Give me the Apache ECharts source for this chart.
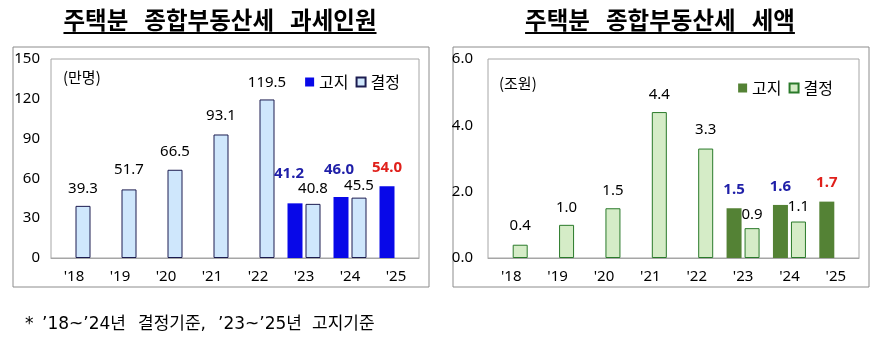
<!DOCTYPE html>
<html>
<head>
<meta charset="utf-8">
<script src="https://cdn.jsdelivr.net/npm/echarts@6/dist/echarts.min.js"></script>
<style>
  html, body { margin: 0; padding: 0; background: #fff; }
  #chart { width: 875px; height: 351px; }
</style>
</head>
<body>
<div id="chart"></div>
<script>
// data
const years = ["'18", "'19", "'20", "'21", "'22", "'23", "'24", "'25"];
const peopleNotice = [null, null, null, null, null, 41.2, 46.0, 54.0]; // 고지 (만명)
const peopleFinal = [39.3, 51.7, 66.5, 93.1, 119.5, 40.8, 45.5, null]; // 결정 (만명)
const amountNotice = [null, null, null, null, null, 1.5, 1.6, 1.7]; // 고지 (조원)
const amountFinal = [0.4, 1.0, 1.5, 4.4, 3.3, 0.9, 1.1, null]; // 결정 (조원)
const peopleTicks = [0, 30, 60, 90, 120, 150];
const amountTicks = [0, 2, 4, 6];

// label placement tweaks (style only)
const peopleFinalGap = [10, 12, 11, 11, 9, 8, 4, 0];
const peopleNoticeGap = [0, 0, 0, 0, 0, 22, 20, 11];
const peopleNoticeShift = [0, 0, 0, 0, 0, -6, -2, 0];
const amountFinalGap = [11, 10, 10, 10, 11, 6, 7, 0];
const amountNoticeGap = [0, 0, 0, 0, 0, 11, 11, 11];

const FONT = "'Noto Sans', 'Noto Sans CJK KR', sans-serif";
const KFONT = "'Noto Sans CJK KR', 'Noto Sans', sans-serif";
const BLUE_LABEL = "#1f1fa8";
const RED_LABEL = "#e0201b";

function items(values, gaps, shifts, bold) {
  return values.map(function (v, i) {
    if (v == null) return null;
    const last = i === values.length - 1;
    return {
      value: v,
      label: {
        distance: gaps[i],
        offset: [shifts ? shifts[i] : 0, 0],
        color: bold ? (last ? RED_LABEL : BLUE_LABEL) : "#000",
        fontWeight: bold ? "bold" : "normal",
      },
    };
  });
}

function measure(text, font) {
  const ctx = document.createElement("canvas").getContext("2d");
  ctx.font = font;
  return ctx.measureText(text).width;
}

const titleFont = "bold 23.5px " + KFONT;
const titleLeft = "주택분   종합부동산세   과세인원";
const titleRight = "주택분   종합부동산세   세액";
const wLeft = measure(titleLeft, titleFont);
const wRight = measure(titleRight, titleFont);

// footnote pieces and their x positions
const noteFont = "17px 'DejaVu Sans', 'Noto Sans CJK KR', sans-serif";
const notePieces = [["*", 25], ["’18~’24년", 42], ["결정기준,", 138], ["’23~’25년", 218], ["고지기준", 312]];

const chart = echarts.init(document.getElementById("chart"));

const barLabel = {
  show: true,
  position: "top",
  fontSize: 15,
  fontFamily: FONT,
  formatter: function (p) { return p.value.toFixed(1); },
};

const legendBase = {
  icon: "rect", itemWidth: 9, itemHeight: 9, itemGap: 7,
  textStyle: { fontSize: 16, fontFamily: KFONT, color: "#000" },
  selectedMode: false,
};

const options = {
  animation: false,
  textStyle: { fontFamily: FONT },
  grid: [
    { left: 51, top: 59, width: 368, height: 199, show: true, borderColor: "#a6a6a6", borderWidth: 1 },
    { left: 488, top: 59, width: 371, height: 199, show: true, borderColor: "#a6a6a6", borderWidth: 1 },
  ],
  legend: [
    Object.assign({ data: ["고지", "결정"], right: 470, top: 69 }, legendBase),
    Object.assign({
      data: ["고지 ", "결정 "], right: 37, top: 75,
      formatter: function (n) { return n.trim(); },
    }, legendBase),
  ],
  xAxis: [0, 1].map(function (g) {
    return {
      type: "category",
      gridIndex: g,
      data: years,
      axisTick: { show: false },
      axisLine: { lineStyle: { color: "#a6a6a6" } },
      axisLabel: { color: "#000", fontSize: 15, margin: 11 },
    };
  }),
  yAxis: [
    {
      type: "value", gridIndex: 0,
      min: peopleTicks[0], max: peopleTicks[peopleTicks.length - 1],
      interval: peopleTicks[1] - peopleTicks[0],
      splitLine: { show: false },
      axisLine: { show: false },
      axisLabel: { color: "#000", fontSize: 15, margin: 11 },
    },
    {
      type: "value", gridIndex: 1,
      min: amountTicks[0], max: amountTicks[amountTicks.length - 1],
      interval: amountTicks[1] - amountTicks[0],
      splitLine: { show: false },
      axisLine: { show: false },
      axisLabel: {
        color: "#000", fontSize: 15, margin: 15,
        formatter: function (v) { return v.toFixed(1); },
      },
    },
  ],
  series: [
    {
      name: "고지", type: "bar", xAxisIndex: 0, yAxisIndex: 0,
      barWidth: 15, barGap: "20%",
      itemStyle: { color: "#0808e8" },
      label: barLabel,
      data: items(peopleNotice, peopleNoticeGap, peopleNoticeShift, true),
    },
    {
      name: "결정", type: "bar", xAxisIndex: 0, yAxisIndex: 0,
      barWidth: 15, barGap: "20%",
      itemStyle: { color: "#cfe7fc", borderColor: "#1c1c50", borderWidth: 1 },
      label: barLabel,
      data: items(peopleFinal, peopleFinalGap, null, false),
    },
    {
      name: "고지 ", type: "bar", xAxisIndex: 1, yAxisIndex: 1,
      barWidth: 15, barGap: "20%",
      itemStyle: { color: "#548235" },
      label: barLabel,
      data: items(amountNotice, amountNoticeGap, null, true),
    },
    {
      name: "결정 ", type: "bar", xAxisIndex: 1, yAxisIndex: 1,
      barWidth: 15, barGap: "20%",
      itemStyle: { color: "#d5ecc7", borderColor: "#2a7a2a", borderWidth: 1 },
      label: barLabel,
      data: items(amountFinal, amountFinalGap, null, false),
    },
  ],
  graphic: [
    // outer frames
    { type: "rect", shape: { x: 13, y: 47, width: 416, height: 240 }, style: { fill: null, stroke: "#8c8c8c", lineWidth: 1 }, z: -1 },
    { type: "rect", shape: { x: 453, y: 47, width: 416, height: 240 }, style: { fill: null, stroke: "#8c8c8c", lineWidth: 1 }, z: -1 },
    // titles with underline
    { type: "text", x: 220, y: 20, style: { text: titleLeft, font: titleFont, fill: "#000", align: "center", verticalAlign: "middle" } },
    { type: "line", shape: { x1: 220 - wLeft / 2, y1: 33, x2: 220 + wLeft / 2, y2: 33 }, style: { stroke: "#000", lineWidth: 2 } },
    { type: "text", x: 660, y: 20, style: { text: titleRight, font: titleFont, fill: "#000", align: "center", verticalAlign: "middle" } },
    { type: "line", shape: { x1: 660 - wRight / 2, y1: 33, x2: 660 + wRight / 2, y2: 33 }, style: { stroke: "#000", lineWidth: 2 } },
    // unit labels
    { type: "text", x: 63, y: 77, style: { text: "(만명)", font: "15px " + KFONT, fill: "#000", verticalAlign: "middle" } },
    { type: "text", x: 499, y: 83, style: { text: "(조원)", font: "15px " + KFONT, fill: "#000", verticalAlign: "middle" } },
  ].concat(notePieces.map(function (p) {
    // footnote
    return { type: "text", x: p[1], y: 325, style: { text: p[0], font: noteFont, fill: "#000", verticalAlign: "middle" } };
  })),
};

chart.setOption(options);
</script>
</body>
</html>
